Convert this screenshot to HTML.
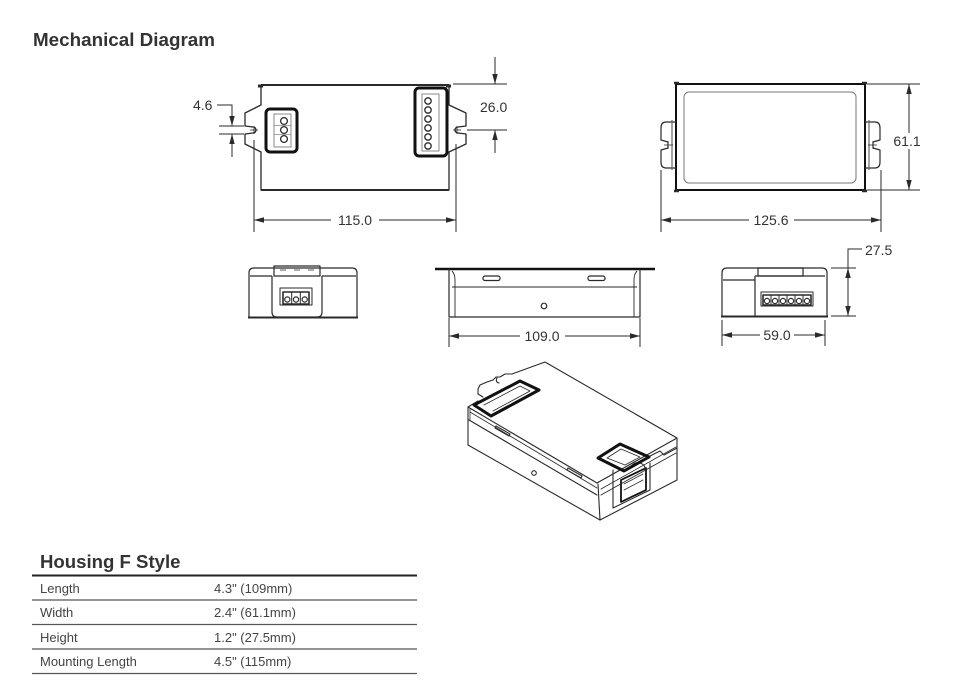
<!DOCTYPE html>
<html><head><meta charset="utf-8"><style>
html,body{margin:0;padding:0;background:#fff;}
svg{display:block;}
text{font-family:"Liberation Sans",Arial,sans-serif;}
</style></head><body>
<svg width="960" height="700" viewBox="0 0 960 700" xmlns="http://www.w3.org/2000/svg">
<defs>
<marker id="a" viewBox="0 0 10 6" refX="10" refY="3" markerWidth="10" markerHeight="6" markerUnits="userSpaceOnUse" orient="auto-start-reverse"><path d="M0,0.3 L10,3 L0,5.7 z" fill="#2a2a2a"/></marker>
</defs>
<rect width="960" height="700" fill="#fff"/>

<text x="33" y="46" font-size="18" font-weight="bold" fill="#333" textLength="182" lengthAdjust="spacingAndGlyphs">Mechanical Diagram</text>

<!-- ============ TOP LEFT VIEW ============ -->
<g fill="none" stroke="#2a2a2a" stroke-width="1.3" stroke-linejoin="round">
<path d="M261,85 L449,85 L449,105 L466,113 L466,126 L458,127 A3,3 0 0 0 458,133 L466,134 L466,144 L449,152 L449,190 L261,190 L261,152 L245,144 L245,134 L253,133 A3,3 0 0 0 253,127 L245,126 L245,113 L261,105 Z"/>
<line x1="261" y1="85" x2="449" y2="85" stroke-width="2"/>
<line x1="261" y1="190" x2="449" y2="190" stroke-width="2"/>
<path d="M258,86 L263,86 M446,86 L451,86" stroke-width="3"/>
<line x1="250" y1="130" x2="258" y2="130" stroke-width="0.8"/>
<line x1="254" y1="126" x2="254" y2="134" stroke-width="0.8"/>
<line x1="453" y1="130" x2="461" y2="130" stroke-width="0.8"/>
<line x1="457" y1="126" x2="457" y2="134" stroke-width="0.8"/>
<!-- left connector -->
<rect x="266" y="109" width="31" height="43" rx="4" stroke="#111" stroke-width="3"/>
<rect x="274" y="114" width="17" height="33" stroke="#888" stroke-width="1"/>
<circle cx="284" cy="121" r="3.4"/><circle cx="284" cy="130" r="3.4"/><circle cx="284" cy="139" r="3.4"/>
<path d="M274,125.5 H291 M274,134.5 H291" stroke="#888" stroke-width="0.8"/>
<!-- right connector -->
<rect x="415" y="88" width="32" height="68" rx="4" stroke="#111" stroke-width="3"/>
<rect x="422" y="94" width="17" height="57" stroke="#888" stroke-width="1"/>
<circle cx="428" cy="101" r="3.2"/><circle cx="428" cy="110" r="3.2"/><circle cx="428" cy="119" r="3.2"/>
<circle cx="428" cy="128" r="3.2"/><circle cx="428" cy="137" r="3.2"/><circle cx="428" cy="146" r="3.2"/>
</g>
<g fill="none" stroke="#2a2a2a" stroke-width="1">
<!-- 4.6 -->
<path d="M217,105 L232,105 L232,126" marker-end="url(#a)"/>
<path d="M232,157 L232,134" marker-end="url(#a)"/>
<line x1="219" y1="126" x2="244" y2="126"/>
<line x1="219" y1="134" x2="244" y2="134"/>
<!-- 26.0 -->
<line x1="453" y1="84" x2="507" y2="84"/>
<line x1="467" y1="130" x2="507" y2="130"/>
<line x1="495" y1="57" x2="495" y2="84" marker-end="url(#a)"/>
<line x1="495" y1="153" x2="495" y2="130" marker-end="url(#a)"/>
<!-- 115.0 -->
<line x1="254" y1="140" x2="254" y2="232"/>
<line x1="456" y1="144" x2="456" y2="232"/>
<line x1="331" y1="220" x2="254" y2="220" marker-end="url(#a)"/>
<line x1="379" y1="220" x2="456" y2="220" marker-end="url(#a)"/>
</g>
<g font-size="14" fill="#333">
<text x="193" y="110">4.6</text>
<text x="480" y="112">26.0</text>
<text x="355" y="225" text-anchor="middle">115.0</text>
</g>

<!-- ============ TOP RIGHT VIEW ============ -->
<g fill="none" stroke="#2a2a2a" stroke-width="1.2" stroke-linejoin="round">
<rect x="676" y="84" width="189" height="106" stroke="#111" stroke-width="2"/>
<rect x="684" y="92" width="172" height="91" rx="5" stroke="#777" stroke-width="1"/>
<path d="M674,83 h5 M862,83 h5 M674,191 h5 M862,191 h5" stroke-width="2.5"/>
<path d="M676,122 L666,122 Q661,122 661,128 L661,140 L668,142 L668,148 L661,150 L661,162 Q661,168 666,168 L676,168"/>
<line x1="672" y1="120" x2="672" y2="170" stroke="#666"/>
<path d="M865,122 L875,122 Q880,122 880,128 L880,140 L873,142 L873,148 L880,150 L880,162 Q880,168 875,168 L865,168"/>
<line x1="869" y1="120" x2="869" y2="170" stroke="#666"/>
<path d="M664,145 h9 M668,141 v8 M868,145 h9 M873,141 v8" stroke-width="0.8"/>
</g>
<g fill="none" stroke="#2a2a2a" stroke-width="1">
<line x1="867" y1="84" x2="920" y2="84"/>
<line x1="867" y1="190" x2="920" y2="190"/>
<line x1="909" y1="84" x2="909" y2="190" marker-start="url(#a)" marker-end="url(#a)"/>
<line x1="661" y1="170" x2="661" y2="232"/>
<line x1="881" y1="170" x2="881" y2="232"/>
<line x1="749" y1="220" x2="661" y2="220" marker-end="url(#a)"/>
<line x1="794" y1="220" x2="881" y2="220" marker-end="url(#a)"/>
</g>
<rect x="892" y="133" width="31" height="16" fill="#fff"/>
<g font-size="14" fill="#333">
<text x="907" y="146" text-anchor="middle">61.1</text>
<text x="771" y="225" text-anchor="middle">125.6</text>
</g>

<!-- ============ MIDDLE LEFT END VIEW ============ -->
<g fill="none" stroke="#2a2a2a" stroke-width="1.2" stroke-linejoin="round">
<path d="M249,317 L249,273 Q249,268 254,268 L352,268 Q357,268 357,273 L357,317"/>
<line x1="248" y1="317.5" x2="358" y2="317.5" stroke-width="2"/>
<path d="M250,276 H272 M322,276 H356"/>
<path d="M272,276 L272,312 Q272,317 277,317 L317,317 Q322,317 322,312 L322,276"/>
<rect x="274" y="266" width="46" height="10"/>
<path d="M280,270 h6 M294,270 h6 M308,270 h6" stroke-width="0.8"/>
<rect x="280" y="288" width="32" height="17" stroke-width="1"/>
<rect x="283" y="292" width="26" height="12" stroke-width="1.6"/>
<path d="M291.7,292 v12 M300.3,292 v12" stroke-width="1"/>
<circle cx="287.3" cy="299.5" r="2.6"/><circle cx="296" cy="299.5" r="2.6"/><circle cx="304.7" cy="299.5" r="2.6"/>
</g>

<!-- ============ MIDDLE SIDE VIEW ============ -->
<g fill="none" stroke="#2a2a2a" stroke-width="1.2" stroke-linejoin="round">
<line x1="435" y1="269" x2="655" y2="269" stroke="#111" stroke-width="2.5"/>
<path d="M449,269 L449,317 L640,317 L640,269"/>
<path d="M452,271 Q455,274 455,280 L455,317 M637,271 Q634,274 634,280 L634,317" stroke-width="0.9"/>
<line x1="452" y1="287" x2="637" y2="287" stroke-width="1"/>
<rect x="483" y="276" width="17" height="4.5" rx="2"/>
<rect x="588" y="276" width="17" height="4.5" rx="2"/>
<circle cx="544" cy="306" r="2.8"/>
</g>
<g fill="none" stroke="#2a2a2a" stroke-width="1">
<line x1="449" y1="318" x2="449" y2="347"/>
<line x1="640" y1="318" x2="640" y2="347"/>
<line x1="520" y1="336" x2="449" y2="336" marker-end="url(#a)"/>
<line x1="565" y1="336" x2="640" y2="336" marker-end="url(#a)"/>
</g>
<text x="542" y="341" font-size="14" fill="#333" text-anchor="middle">109.0</text>

<!-- ============ MIDDLE RIGHT END VIEW ============ -->
<g fill="none" stroke="#2a2a2a" stroke-width="1.2" stroke-linejoin="round">
<path d="M722,316 L722,273 Q722,268 727,268 L822,268 Q827,268 827,273 L827,316"/>
<line x1="721" y1="316.5" x2="828" y2="316.5" stroke-width="2"/>
<line x1="723" y1="280" x2="755" y2="280"/>
<path d="M755,276 L755,316 M755,276 L825,276"/>
<rect x="758" y="268" width="45" height="8"/>
<rect x="761" y="292" width="52" height="14" stroke-width="1"/>
<rect x="763" y="295" width="48" height="10" stroke-width="1.6"/>
<path d="M771,295 v10 M779,295 v10 M787,295 v10 M795,295 v10 M803,295 v10" stroke-width="1"/>
<circle cx="767" cy="301" r="2.6"/><circle cx="775" cy="301" r="2.6"/><circle cx="783" cy="301" r="2.6"/>
<circle cx="791" cy="301" r="2.6"/><circle cx="799" cy="301" r="2.6"/><circle cx="807" cy="301" r="2.6"/>
</g>
<g fill="none" stroke="#2a2a2a" stroke-width="1">
<line x1="831" y1="268" x2="856" y2="268"/>
<line x1="831" y1="316" x2="856" y2="316"/>
<line x1="848" y1="268" x2="848" y2="316" marker-start="url(#a)" marker-end="url(#a)"/>
<path d="M848,268 L848,249 L862,249"/>
<line x1="722" y1="320" x2="722" y2="346"/>
<line x1="825" y1="320" x2="825" y2="346"/>
<line x1="760" y1="335" x2="722" y2="335" marker-end="url(#a)"/>
<line x1="794" y1="335" x2="825" y2="335" marker-end="url(#a)"/>
</g>
<g font-size="14" fill="#333">
<text x="865" y="255">27.5</text>
<text x="777" y="340" text-anchor="middle">59.0</text>
</g>

<!-- ============ ISOMETRIC ============ -->
<g fill="none" stroke="#2a2a2a" stroke-width="1.1" stroke-linejoin="round" stroke-linecap="round">
<!-- top face -->
<path d="M512,374 L545,362 L677,438 L597,483 L468,407 L478,401"/>
<!-- back-left tab -->
<path d="M512,374 L505,374 L500,377 L496,377 L493,380 L487,382 L480,385 L478,389 L478,394 L483,397"/>
<path d="M497,378 Q495,382 499,383"/>
<!-- vertical edges -->
<line x1="468" y1="407" x2="468" y2="445"/>
<line x1="470" y1="409" x2="470" y2="420" stroke-width="0.8"/>
<line x1="598" y1="484" x2="600" y2="520"/>
<line x1="677" y1="438" x2="677" y2="480"/>
<!-- bottom edges -->
<line x1="468" y1="445" x2="600" y2="520"/>
<line x1="600" y1="520" x2="677" y2="480"/>
<!-- lid lines -->
<line x1="470" y1="412" x2="597" y2="488" stroke-width="0.8"/>
<line x1="469" y1="420" x2="597" y2="495"/>
<line x1="601" y1="495" x2="676" y2="453" stroke-width="0.9"/>
<line x1="601" y1="489" x2="676" y2="447" stroke-width="0.8"/>
<!-- slots -->
<path d="M495,428 L509,436 L510,434 L496,426 Z"/>
<path d="M567,470 L581,478 L582,476 L568,468 Z"/>
<circle cx="534" cy="473" r="2.3"/>
<!-- right face connector housing -->
<path d="M613,470 L613,508 L650,490 L650,463"/>
<path d="M621,480 L621,502 L646,490 L646,468 Z" stroke="#111" stroke-width="1.8"/>
<path d="M624,484 L643,474 M624,490 L643,480" stroke-width="0.8"/>
<path d="M630,468 Q633,462 640,463 Q646,465 645,470" />
<path d="M650,456 L660,451 L664,455 L677,448"/>
<!-- openings -->
<path d="M474,405 L520,381 L539,390 L491,416 Z" stroke="#111" stroke-width="3"/>
<path d="M484,405 L520,386 L530,391 L493,411" stroke-width="0.8"/>
<path d="M598,458 L620,444 L649,457 L624,471 Z" stroke="#111" stroke-width="3"/>
<path d="M607,458 L621,449 L640,457 L625,465 Z" stroke-width="0.8"/>
</g>

<!-- ============ TABLE ============ -->
<text x="40" y="568" font-size="18.6" font-weight="bold" fill="#333">Housing F Style</text>
<line x1="32" y1="575.5" x2="417" y2="575.5" stroke="#222" stroke-width="2"/>
<g stroke="#555" stroke-width="1.2">
<line x1="32" y1="600" x2="417" y2="600"/>
<line x1="32" y1="624.5" x2="417" y2="624.5"/>
<line x1="32" y1="649" x2="417" y2="649"/>
<line x1="32" y1="673.5" x2="417" y2="673.5"/>
</g>
<g font-size="13" fill="#444">
<text x="40" y="593">Length</text><text x="214" y="593">4.3" (109mm)</text>
<text x="40" y="617">Width</text><text x="214" y="617">2.4" (61.1mm)</text>
<text x="40" y="642">Height</text><text x="214" y="642">1.2" (27.5mm)</text>
<text x="40" y="666">Mounting Length</text><text x="214" y="666">4.5" (115mm)</text>
</g>
</svg>
</body></html>
